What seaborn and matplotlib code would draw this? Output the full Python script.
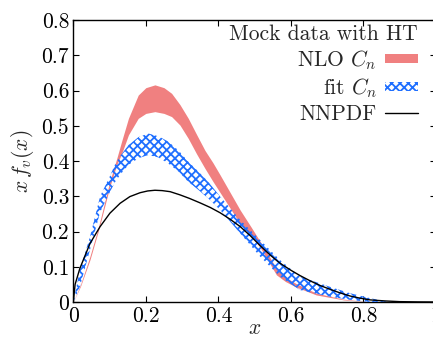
import matplotlib
matplotlib.use("Agg")
import matplotlib.pyplot as plt
import seaborn as sns
import pandas as pd
from matplotlib.patches import Patch
from matplotlib.lines import Line2D

# NLO C_n band (red)
x_nlo = [0, 0.02, 0.046, 0.07, 0.1, 0.12, 0.133, 0.152, 0.179, 0.2, 0.225, 0.25,
         0.271, 0.294, 0.317, 0.34, 0.363, 0.385, 0.405, 0.43, 0.46, 0.49, 0.515,
         0.54, 0.56, 0.585, 0.615, 0.67, 0.745, 0.82]
nlo_lo = [0, 0.045, 0.12, 0.205, 0.325, 0.39, 0.42, 0.474, 0.521, 0.535, 0.54, 0.535,
          0.526, 0.502, 0.464, 0.42, 0.379, 0.342, 0.31, 0.27, 0.222, 0.188, 0.155,
          0.112, 0.077, 0.058, 0.042, 0.02, 0.006, 0]
nlo_hi = [0, 0.05, 0.13, 0.215, 0.34, 0.408, 0.455, 0.521, 0.587, 0.608, 0.616, 0.608,
          0.592, 0.56, 0.521, 0.475, 0.43, 0.395, 0.36, 0.315, 0.261, 0.213, 0.172,
          0.13, 0.095, 0.07, 0.052, 0.025, 0.008, 0]

# fit C_n band (blue hatched)
x_fit = [0, 0.018, 0.046, 0.074, 0.1, 0.115, 0.13, 0.152, 0.18, 0.207, 0.235, 0.262,
         0.29, 0.317, 0.345, 0.372, 0.405, 0.46, 0.515, 0.57, 0.625, 0.708, 0.763,
         0.818, 0.87]
fit_lo = [0, 0.043, 0.148, 0.255, 0.31, 0.34, 0.362, 0.389, 0.408, 0.417, 0.41, 0.393,
          0.37, 0.341, 0.318, 0.294, 0.261, 0.195, 0.129, 0.072, 0.034, 0.015, 0.006,
          0.0, 0]
fit_hi = [0, 0.09, 0.185, 0.30, 0.355, 0.39, 0.415, 0.445, 0.468, 0.478, 0.47, 0.455,
          0.43, 0.398, 0.37, 0.341, 0.299, 0.233, 0.176, 0.119, 0.072, 0.043, 0.025,
          0.011, 0]

# NNPDF central line
x_nn = [0, 0.005, 0.018, 0.046, 0.074, 0.101, 0.129, 0.156, 0.184, 0.205, 0.225,
        0.245, 0.267, 0.294, 0.32, 0.35, 0.378, 0.405, 0.432, 0.46, 0.488, 0.515,
        0.543, 0.57, 0.6, 0.625, 0.653, 0.68, 0.708, 0.735, 0.763, 0.79, 0.818,
        0.86, 0.9, 0.95, 1.0]
nn = [0, 0.05, 0.095, 0.166, 0.214, 0.252, 0.28, 0.299, 0.31, 0.315, 0.317,
      0.316, 0.313, 0.304, 0.294, 0.281, 0.268, 0.253, 0.235, 0.214, 0.188, 0.16,
      0.133, 0.11, 0.09, 0.075, 0.06, 0.047, 0.036, 0.026, 0.017, 0.011, 0.006,
      0.003, 0.001, 0.0003, 0]

x_ticks = [0, 0.2, 0.4, 0.6, 0.8, 1.0]
x_ticklabels = ["0", "0.2", "0.4", "0.6", "0.8", "1"]
y_ticks = [0, 0.1, 0.2, 0.3, 0.4, 0.5, 0.6, 0.7, 0.8]
y_ticklabels = ["0", "0.1", "0.2", "0.3", "0.4", "0.5", "0.6", "0.7", "0.8"]

legend_title = "Mock data with HT"
labels = ["NLO $C_n$", "fit $C_n$", "NNPDF"]

sns.set_style("ticks")
plt.rcParams["font.family"] = ["cmr10", "DejaVu Serif"]
plt.rcParams["mathtext.fontset"] = "cm"
plt.rcParams["axes.formatter.use_mathtext"] = True
plt.rcParams["hatch.linewidth"] = 1.3
plt.rcParams["hatch.color"] = "#1f6fff"

RED = "#f08080"
BLUE = "#1f6fff"
FS = 15.5

fig = plt.figure(figsize=(4.33, 3.37), dpi=100)
ax = fig.add_axes([73.3 / 433, 35 / 337, (436 - 73.3) / 433, (302 - 20) / 337])

ax.fill_between(x_nlo, nlo_lo, nlo_hi, color=RED, lw=0, zorder=2)
ax.fill_between(x_fit, fit_lo, fit_hi, facecolor="none", edgecolor=BLUE,
                hatch="xxxx", lw=0, zorder=3)
df = pd.DataFrame({"x": x_nn, "y": nn})
sns.lineplot(data=df, x="x", y="y", ax=ax, color="black", lw=1.0, zorder=4)

ax.set_xlim(0, 1)
ax.set_ylim(0, 0.8)
ax.set_xticks(x_ticks)
ax.set_xticklabels(x_ticklabels)
ax.set_yticks(y_ticks)
ax.set_yticklabels(y_ticklabels)
ax.tick_params(direction="in", top=True, right=True, length=4, width=0.8,
               labelsize=FS, pad=3, colors="black")
for s in ax.spines.values():
    s.set_linewidth(1.0)
    s.set_color("black")
ax.set_xlabel("$x$", fontsize=FS, labelpad=-5)
ax.set_ylabel("$x\\,f_v(x)$", fontsize=FS, labelpad=4)

handles = [Patch(facecolor=RED, edgecolor="none"),
           Patch(facecolor="none", edgecolor=BLUE, hatch="xxxx", lw=0),
           Line2D([0], [0], color="black", lw=1.0)]
leg = ax.legend(handles, labels, title=legend_title, loc="upper right",
                bbox_to_anchor=((422 - 73.3) / (436 - 73.3), 1.0),
                bbox_transform=ax.transAxes, frameon=False, markerfirst=False,
                fontsize=FS, title_fontsize=FS, handlelength=1.5,
                handleheight=0.3, handletextpad=0.4, labelspacing=0.2,
                borderpad=0.2, borderaxespad=0.0, alignment="right")
leg.set_zorder(5)

fig.savefig("out.png", dpi=100)
